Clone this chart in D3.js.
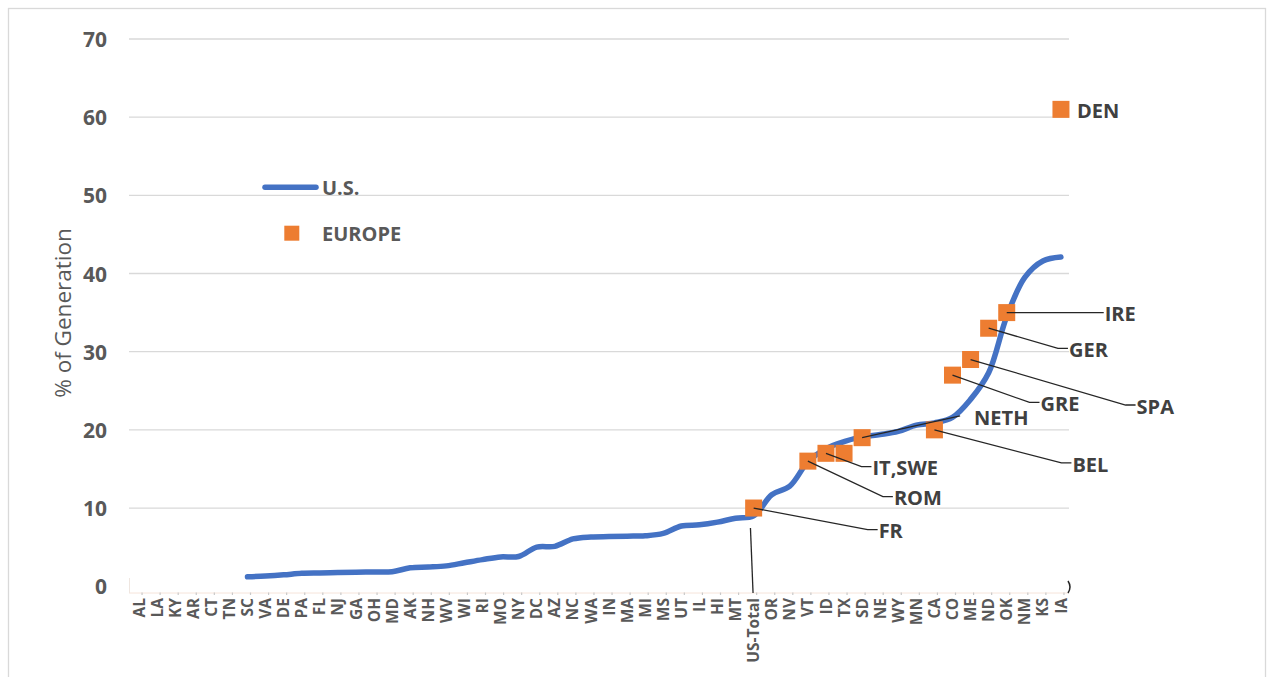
<!DOCTYPE html>
<html>
<head>
<meta charset="utf-8">
<script src="https://cdn.jsdelivr.net/npm/d3@7"></script>
<style>
  html, body { margin: 0; padding: 0; background: #fff; }
  svg { display: block; }
  text { font-family: "Open Sans", "DejaVu Sans", sans-serif; }
</style>
</head>
<body>
<svg id="chart" width="1268" height="677"></svg>
<script>
// States ordered by share of generation, with the U.S. total in place
const categories = ["AL","LA","KY","AR","CT","TN","SC","VA","DE","PA","FL","NJ","GA","OH","MD",
  "AK","NH","WV","WI","RI","MO","NY","DC","AZ","NC","WA","IN","MA","MI","MS","UT","IL","HI","MT",
  "US-Total","OR","NV","VT","ID","TX","SD","NE","WY","MN","CA","CO","ME","ND","OK","NM","KS","IA"];

// U.S. series (% of generation); states without a value are left out of the line
const usValues = [null,null,null,null,null,null,1.2,1.3,1.45,1.65,1.7,1.75,1.78,1.82,1.86,
  2.35,2.45,2.6,3.0,3.4,3.75,3.8,5.0,5.1,6.05,6.3,6.35,6.4,6.45,6.75,7.7,7.85,8.2,8.7,
  9.0,11.7,12.8,15.9,17.6,18.5,19.1,19.4,19.8,20.6,20.9,21.6,23.9,27.3,34.5,39.5,41.6,42.1];

// European countries, each placed at the state with a similar share
const europeNames = ["FR","ROM","IT","SWE","NETH","BEL","GRE","SPA","GER","IRE","DEN"];
const europeAt    = ["US-Total","VT","ID","TX","SD","CA","CO","ME","ND","OK","IA"];
const europeValues = [10,16,17,17,19,20,27,29,33,35,61];

const yTicks = [0,10,20,30,40,50,60,70];

const svg = d3.select("#chart");
const W = 1268, H = 677;
const plot = { left: 130, right: 1070, top: 39, bottom: 586.2 };

const x = d3.scaleBand().domain(categories).range([plot.left, plot.right]).padding(0);
const y = d3.scaleLinear().domain([0, 70]).range([plot.bottom, plot.top]);
const cx = c => x(c) + x.bandwidth() / 2;

const GRID = "#D9D9D9", AXIS_TEXT = "#595959", LABEL = "#404040";
const BLUE = "#4472C4", ORANGE = "#ED7D31";

// outer chart frame
svg.append("rect").attr("x", 8.5).attr("y", 8.5).attr("width", W - 11).attr("height", H + 10)
  .attr("fill", "none").attr("stroke", "#D9D9D9").attr("stroke-width", 1.3);

// horizontal gridlines
svg.append("g").selectAll("line").data(yTicks.filter(t => t > 0)).join("line")
  .attr("x1", plot.left - 1).attr("x2", plot.right - 1)
  .attr("y1", d => y(d)).attr("y2", d => y(d))
  .attr("stroke", GRID).attr("stroke-width", 1.3);

// value axis labels
const yAxis = d3.axisLeft(y).tickValues(yTicks).tickSize(0).tickPadding(0);
const yg = svg.append("g").attr("transform", "translate(107,0)").call(yAxis);
yg.select(".domain").remove();
yg.selectAll("text")
  .attr("font-family", "'Open Sans', sans-serif").attr("font-size", 21).attr("font-weight", 700)
  .attr("fill", AXIS_TEXT).attr("dy", "0.36em");

// axis title
svg.append("text")
  .attr("transform", "translate(63,313) rotate(-90)")
  .attr("text-anchor", "middle").attr("dy", "0.35em")
  .attr("font-size", 22.5).attr("font-weight", 400).attr("fill", AXIS_TEXT)
  .text("% of Generation");

// category axis: faint base line, small tick marks and rotated labels
const axisY = 593;
svg.append("line").attr("x1", plot.left - 1).attr("x2", plot.right - 2)
  .attr("y1", axisY).attr("y2", axisY).attr("stroke", "#F6E4DA").attr("stroke-width", 1);
svg.append("line").attr("x1", plot.left - 0.5).attr("x2", plot.left - 0.5)
  .attr("y1", axisY - 15).attr("y2", axisY).attr("stroke", "#EFE6E0").attr("stroke-width", 1);
svg.append("g").selectAll("line").data(categories).join("line")
  .attr("x1", d => cx(d) + 3).attr("x2", d => cx(d) + 3)
  .attr("y1", axisY - 0.5).attr("y2", axisY + 2)
  .attr("stroke", "#C9C9C9").attr("stroke-width", 1.2);
svg.append("g").selectAll("text").data(categories).join("text")
  .attr("transform", d => `translate(${cx(d)},598) rotate(-90)`)
  .attr("text-anchor", "end").attr("dy", "0.36em")
  .attr("font-size", 15.5).attr("font-weight", 700).attr("fill", AXIS_TEXT)
  .text(d => d);

// U.S. line
const usData = categories.map((c, i) => ({ c, v: usValues[i] }));
const line = d3.line()
  .defined(d => d.v !== null)
  .x(d => cx(d.c)).y(d => y(d.v))
  .curve(d3.curveCatmullRom.alpha(0.5));
svg.append("path").datum(usData).attr("d", line)
  .attr("fill", "none").attr("stroke", BLUE).attr("stroke-width", 5.5)
  .attr("stroke-linejoin", "round").attr("stroke-linecap", "round");

// Europe markers
const europe = europeNames.map((n, i) => ({ name: n, c: europeAt[i], v: europeValues[i] }));
svg.append("g").selectAll("rect").data(europe).join("rect")
  .attr("x", d => cx(d.c) - 8.5).attr("y", d => y(d.v) - 8.5)
  .attr("width", 17).attr("height", 17).attr("fill", ORANGE);

// leader lines and labels: elbow offset from the marker centre
const callouts = [
  { name: "FR",     dx: 114,  dy: 21.5 },
  { name: "ROM",    dx: 75,   dy: 35.5 },
  { name: "IT,SWE", dx: 35.5, dy: 13.4, from: "IT" },
  { name: "NETH",   dx: 98,   dy: -21.7, noTail: true },
  { name: "BEL",    dx: 127,  dy: 33 },
  { name: "GRE",    dx: 77,   dy: 27.3 },
  { name: "SPA",    dx: 155,  dy: 45.5 },
  { name: "GER",    dx: 69.3, dy: 20.1 },
  { name: "IRE",    dx: 87,   dy: 0 }
];
const lg = svg.append("g");
callouts.forEach(co => {
  const m = europe.find(e => e.name === (co.from || co.name));
  const mx = cx(m.c), my = y(m.v);
  const ex = mx + co.dx, ey = my + co.dy;
  const pts = co.noTail ? [[mx, my], [ex, ey]] : [[mx, my], [ex, ey], [ex + 10, ey]];
  lg.append("path").attr("d", d3.line()(pts))
    .attr("fill", "none").attr("stroke", "#262626").attr("stroke-width", 1.3);
  lg.append("text")
    .attr("x", ex + (co.noTail ? 14 : 11)).attr("y", ey + 1.5).attr("dy", "0.36em")
    .attr("font-size", 20).attr("font-weight", 700).attr("fill", LABEL)
    .text(co.name);
});

// DEN label sits beside its marker
const den = europe.find(e => e.name === "DEN");
lg.append("text").attr("x", cx(den.c) + 16).attr("y", y(den.v) + 1.5).attr("dy", "0.36em")
  .attr("font-size", 20).attr("font-weight", 700).attr("fill", LABEL).text("DEN");

// connector dropping from the U.S. total to the category axis
const fr = europe.find(e => e.name === "FR");
lg.append("line")
  .attr("x1", cx(fr.c) - 3.2).attr("y1", y(fr.v) + 20)
  .attr("x2", cx(fr.c) - 0.6).attr("y2", axisY)
  .attr("stroke", "#262626").attr("stroke-width", 1.3);

// small bracket at the end of the category axis
lg.append("path")
  .attr("d", `M${plot.right - 2},${axisY - 12} Q${plot.right + 2},${axisY - 6} ${plot.right - 2},${axisY}`)
  .attr("fill", "none").attr("stroke", "#262626").attr("stroke-width", 1.5);

// legend
const leg = svg.append("g");
leg.append("line").attr("x1", 265).attr("x2", 316).attr("y1", 187.3).attr("y2", 187.3)
  .attr("stroke", BLUE).attr("stroke-width", 5.5).attr("stroke-linecap", "round");
leg.append("text").attr("x", 322).attr("y", 188).attr("dy", "0.36em")
  .attr("font-size", 20).attr("font-weight", 700).attr("fill", AXIS_TEXT).text("U.S.");
leg.append("rect").attr("x", 284.3).attr("y", 225.7).attr("width", 15).attr("height", 15)
  .attr("fill", ORANGE);
leg.append("text").attr("x", 322).attr("y", 233.5).attr("dy", "0.36em")
  .attr("font-size", 20).attr("font-weight", 700).attr("fill", AXIS_TEXT).text("EUROPE");
</script>
</body>
</html>
